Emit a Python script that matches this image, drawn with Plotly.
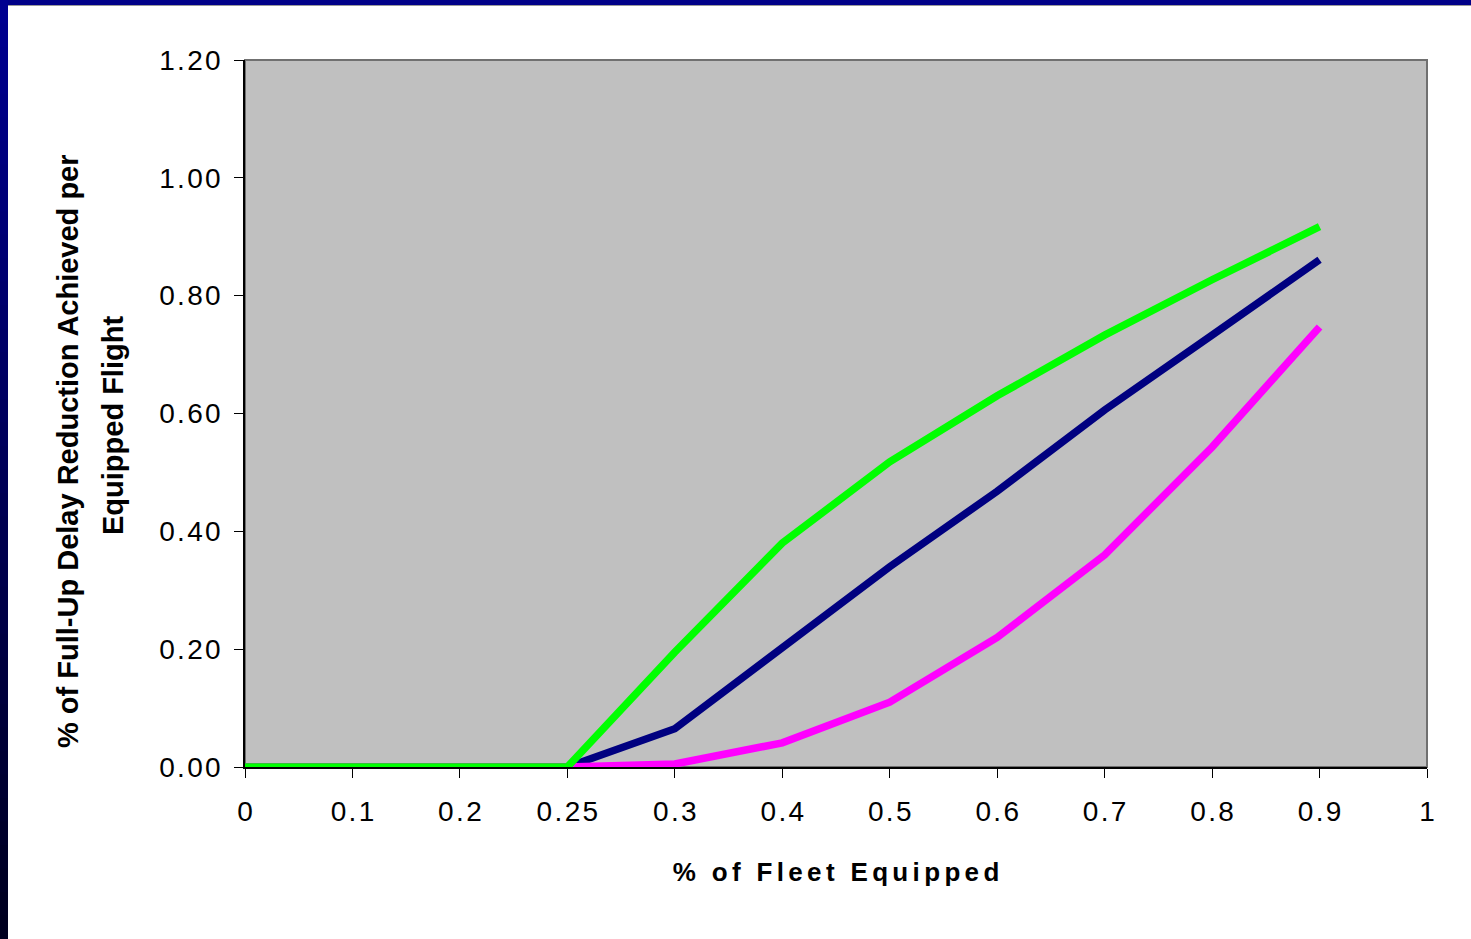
import plotly.graph_objects as go

categories = ["0", "0.1", "0.2", "0.25", "0.3", "0.4", "0.5", "0.6", "0.7", "0.8", "0.9", "1"]
green_vals = [0, 0, 0, 0, 0.195, 0.38, 0.518, 0.63, 0.733, 0.827, 0.917]
navy_vals = [0, 0, 0, 0, 0.065, 0.204, 0.34, 0.468, 0.606, 0.733, 0.861]
magenta_vals = [0, 0, 0, 0, 0.005, 0.041, 0.11, 0.22, 0.36, 0.543, 0.747]
y_ticks = [0, 0.2, 0.4, 0.6, 0.8, 1.0, 1.2]
x_title = "% of Fleet Equipped"
y_title_lines = ["% of Full-Up Delay Reduction Achieved per", "Equipped Flight"]

HS = "\u200a"  # hair space to mimic the wide letter spacing


def spaced(s, sep):
    return sep.join(list(s))


W, H = 1471, 939
ML, MR, MT, MB = 245, 44, 60, 172
PW, PH = W - ML - MR, H - MT - MB


def px_x(p):
    return (p - ML) / PW


def px_y(p):
    return (H - MB - p) / PH


fig = go.Figure()
for vals, col in [(navy_vals, "#000080"), (magenta_vals, "#FF00FF"), (green_vals, "#00FF00")]:
    fig.add_trace(go.Scatter(x=categories[:len(vals)], y=vals, mode="lines",
                             line=dict(color=col, width=7.5), showlegend=False,
                             cliponaxis=False))

shapes = []
shapes.append(dict(type="rect", xref="paper", yref="paper", x0=px_x(0), x1=px_x(W), y0=px_y(5), y1=px_y(0),
                   fillcolor="#000088", line=dict(width=0), layer="above"))
shapes.append(dict(type="line", xref="paper", yref="paper", x0=px_x(8), x1=px_x(W), y0=px_y(5.5), y1=px_y(5.5),
                   line=dict(color="#9a9a9a", width=1), layer="above"))
n = 40
for i in range(n):
    t = i / (n - 1)
    b = int(0x90 * (1 - t) + 0x20 * t)
    y0 = i * H / n
    y1 = (i + 1) * H / n + 1
    shapes.append(dict(type="rect", xref="paper", yref="paper", x0=px_x(0), x1=px_x(8),
                       y0=px_y(y1), y1=px_y(y0), fillcolor=f"rgb(0,0,{b})",
                       line=dict(width=0), layer="above"))
shapes.append(dict(type="rect", xref="paper", yref="paper", x0=0, x1=1, y0=0, y1=1,
                   line=dict(color="#707070", width=2), layer="below"))

annotations = [
    dict(text="<b>" + y_title_lines[0] + "</b>", textangle=-90, xref="paper", yref="paper",
         x=px_x(68), y=px_y(451), xanchor="center", yanchor="middle", showarrow=False,
         font=dict(size=29)),
    dict(text="<b>" + y_title_lines[1] + "</b>", textangle=-90, xref="paper", yref="paper",
         x=px_x(113), y=px_y(426), xanchor="center", yanchor="middle", showarrow=False,
         font=dict(size=29)),
]

fig.update_layout(
    width=W, height=H,
    margin=dict(l=ML, r=MR, t=MT, b=MB),
    paper_bgcolor="white",
    plot_bgcolor="#C0C0C0",
    font=dict(family="Liberation Sans, Arial, sans-serif", color="black"),
    shapes=shapes,
    annotations=annotations,
    xaxis=dict(
        type="category", categoryorder="array", categoryarray=categories,
        range=[0, len(categories) - 1], showgrid=False, zeroline=False,
        showline=True, linecolor="black", linewidth=1.5,
        ticks="outside", ticklen=9, tickcolor="black", tickwidth=1,
        tickmode="array", tickvals=categories, ticktext=[spaced(c, HS) for c in categories],
        tickfont=dict(size=28), ticklabelstandoff=10,
        title=dict(text="<b>" + spaced(x_title, HS + HS) + "</b>", font=dict(size=26), standoff=36),
    ),
    yaxis=dict(
        range=[0, 1.2], tickmode="array", tickvals=y_ticks,
        ticktext=[spaced(f"{v:.2f}", HS) for v in y_ticks],
        showgrid=False, zeroline=False,
        showline=True, linecolor="black", linewidth=1.5,
        ticks="outside", ticklen=9, tickcolor="black", tickwidth=1,
        tickfont=dict(size=28), ticklabelstandoff=8,
    ),
)

fig.write_html("out.html")
